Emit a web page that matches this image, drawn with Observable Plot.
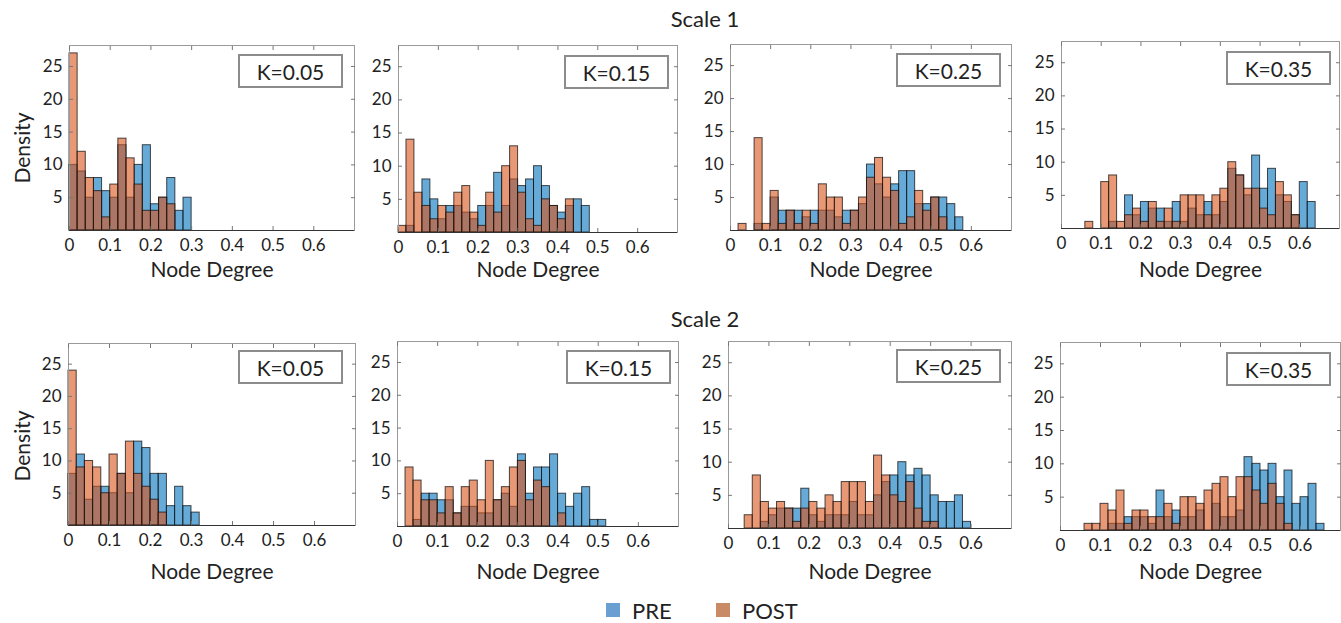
<!DOCTYPE html>
<html><head><meta charset="utf-8">
<script src="https://cdn.jsdelivr.net/npm/d3@7"></script>
<script src="https://cdn.jsdelivr.net/npm/@observablehq/plot@0.6"></script>
<style>
html,body{margin:0;padding:0;background:#fff;overflow:hidden;}
#chart{position:relative;width:1341px;height:623px;font-family:Lato,"Open Sans",sans-serif;color:#222;background:#fff;}
.abs{position:absolute;white-space:nowrap;}
.title{font-size:22px;transform:translate(-50%,-50%);}
.ylab{font-size:21px;transform:translate(-50%,-50%) rotate(-90deg);}
.kbox{border:2px solid #8c8c8c;box-sizing:border-box;display:flex;align-items:center;justify-content:center;font-size:21px;background:#fff;}
.sw{width:14px;height:14px;}
.leg{font-size:22px;transform:translateY(-50%);}
</style></head><body><div id="chart"></div>
<script>
// ---------- data ----------
const binWidth = 0.02;
const xTicks = [0, 0.1, 0.2, 0.3, 0.4, 0.5, 0.6];
const yTicks = [5, 10, 15, 20, 25];
const scaleTitles = ["Scale 1", "Scale 2"];
const kLabels = ["K=0.05", "K=0.15", "K=0.25", "K=0.35"];
const seriesNames = ["PRE", "POST"];
const xLabel = "Node Degree";
const yLabel = "Density";

// counts per 0.02-wide bin, starting at 0
const s1k05Pre  = [10,9,5,8,6,5,13,5,10,13,4,5,8,3,5];
const s1k05Post = [27,12,8,6,2,7,14,11,7,3,3,5,4,0,0];
const s1k15Pre  = [0,1,0,8,5,2,4,4,3,2,4,4,9,4,8,7,8,10,7,4,3,4,5,4];
const s1k15Post = [1,14,6,4,2,4,3,6,7,3,1,6,3,10,13,6,2,1,5,4,2,5,0,0];
const s1k25Pre  = [0,0,0,1,0,5,3,3,3,2,3,3,3,2,3,3,4,10,7,5,7,9,9,4,4,5,5,4,2];
const s1k25Post = [0,1,0,14,1,6,1,3,1,3,1,7,5,5,1,3,5,8,11,8,6,1,2,6,3,5,2,0,0];
const s1k35Pre  = [0,0,0,0,0,0,1,0,5,2,4,3,3,1,4,1,3,2,4,2,4,9,8,5,11,6,9,5,4,2,7,4];
const s1k35Post = [0,0,0,1,0,7,8,1,2,3,1,4,1,3,1,5,5,5,2,5,6,10,8,6,6,3,2,7,5,2,0,0];
const s2k05Pre  = [8,11,4,6,6,5,8,5,13,12,8,8,3,6,3,2];
const s2k05Post = [24,9,10,9,5,11,8,13,8,6,4,2,0,0,0,0];
const s2k15Pre  = [0,0,1,5,5,4,4,2,3,3,2,2,4,5,3,11,5,9,9,11,5,3,5,6,1,1];
const s2k15Post = [0,9,7,4,4,2,6,2,6,7,4,10,4,6,9,10,4,7,6,0,2,0,0,0,0,0];
const s2k25Pre  = [0,0,0,0,1,2,3,3,3,6,2,1,2,2,2,4,2,2,5,7,8,10,8,9,8,5,4,4,5,1];
const s2k25Post = [0,0,2,8,4,3,4,3,1,3,4,3,5,4,7,7,7,4,11,8,5,4,7,3,1,1,0,0,0,0];
const s2k35Pre  = [0,0,0,0,0,0,1,1,2,2,2,1,6,2,3,2,2,3,0,4,2,2,3,11,10,9,10,5,9,4,5,7,1];
const s2k35Post = [0,0,0,1,1,4,3,6,1,3,3,2,2,4,1,5,5,4,6,7,8,5,8,8,6,4,7,4,1,0,0,0,0];

// ---------- layout ----------
const panels = [
  {row:0, col:0, pre:s1k05Pre, post:s1k05Post, L:69,  R:354,  T:45,  B:230, kx:238,  ky:54},
  {row:0, col:1, pre:s1k15Pre, post:s1k15Post, L:398, R:677,  T:45,  B:232, kx:564,  ky:55},
  {row:0, col:2, pre:s1k25Pre, post:s1k25Post, L:730, R:1011, T:44,  B:230, kx:896,  ky:53},
  {row:0, col:3, pre:s1k35Pre, post:s1k35Post, L:1061,R:1339, T:41,  B:228, kx:1226, ky:51},
  {row:1, col:0, pre:s2k05Pre, post:s2k05Post, L:68,  R:355,  T:343, B:525, kx:238,  ky:350},
  {row:1, col:1, pre:s2k15Pre, post:s2k15Post, L:397, R:678,  T:341, B:526, kx:566,  ky:350},
  {row:1, col:2, pre:s2k25Pre, post:s2k25Post, L:728, R:1011, T:341, B:528, kx:896,  ky:349},
  {row:1, col:3, pre:s2k35Pre, post:s2k35Post, L:1060,R:1340, T:342, B:530, kx:1226, ky:352}
];
const rowTitleY = [18, 318];
const rowXLabelY = [270, 572];
const rowYLabelY = [148, 446];
const preColor = "#0072BD", postColor = "#D95319";

const chart = document.getElementById("chart");
const toBins = counts => counts.map((c, i) => ({x1: i*binWidth, x2: (i+1)*binWidth, y1: 0, y2: c})).filter(d => d.y2 > 0);
const fmt = d => d === 0 ? "0" : String(d);

const mL = 45, mR = 2, mT = 3, mB = 62;
for (const p of panels) {
  const barStyle = {x1:"x1", x2:"x2", y1:"y1", y2:"y2", fillOpacity:0.6, stroke:"#111", strokeOpacity:0.75, strokeWidth:1};
  const svg = Plot.plot({
    width: p.R - p.L + mL + mR,
    height: p.B - p.T + mT + mB,
    marginLeft: mL, marginRight: mR, marginTop: mT, marginBottom: mB,
    x: {domain: [0, 0.7]},
    y: {domain: [0, 28.2]},
    style: {fontFamily: "Lato, 'Open Sans', sans-serif", fontSize: "17px", color: "#222", background: "transparent", overflow: "visible"},
    marks: [
      Plot.rect(toBins(p.pre), {...barStyle, fill: preColor}),
      Plot.rect(toBins(p.post), {...barStyle, fill: postColor}),
      Plot.frame({stroke: "#9a9a9a"}),
      Plot.ruleY([0], {stroke: "#333"}),
      Plot.axisX({ticks: xTicks, tickFormat: fmt, tickSize: -4, tickPadding: 12, label: null, stroke: "#777"}),
      Plot.axisX({anchor: "top", ticks: xTicks, tickFormat: () => "", tickSize: -4, label: null, stroke: "#777"}),
      Plot.axisY({ticks: yTicks, tickSize: -4, tickPadding: 11, label: null, stroke: "#777"}),
      Plot.axisY({anchor: "right", ticks: yTicks, tickFormat: () => "", tickSize: -4, label: null, stroke: "#777"}),
      Plot.text([xLabel], {text: d => d, frameAnchor: "bottom", lineAnchor: "middle", dy: rowXLabelY[p.row] - p.B, fontSize: 21, fill: "#222"})
    ]
  });
  svg.style.position = "absolute";
  svg.style.left = (p.L - mL) + "px";
  svg.style.top = (p.T - mT) + "px";
  chart.appendChild(svg);
}

function addDiv(cls, text, left, top, extra) {
  const d = document.createElement("div");
  d.className = "abs " + cls;
  d.textContent = text;
  d.style.left = left + "px";
  d.style.top = top + "px";
  if (extra) Object.assign(d.style, extra);
  chart.appendChild(d);
  return d;
}
// K boxes
for (const p of panels) {
  addDiv("kbox", kLabels[p.col], p.kx, p.ky, {width: "105px", height: "34px"});
}
// row titles and y labels
scaleTitles.forEach((t, i) => {
  addDiv("title", t, 705, rowTitleY[i]);
  addDiv("ylab", yLabel, 21, rowYLabelY[i]);
});
// legend
const legColors = ["#6a9fd2", "#c98a66"];
const legX = [606, 716];
const legTextX = [632, 742];
seriesNames.forEach((s, i) => {
  addDiv("sw", "", legX[i], 603, {background: legColors[i]});
  addDiv("leg", s, legTextX[i], 610);
});
</script></body></html>
